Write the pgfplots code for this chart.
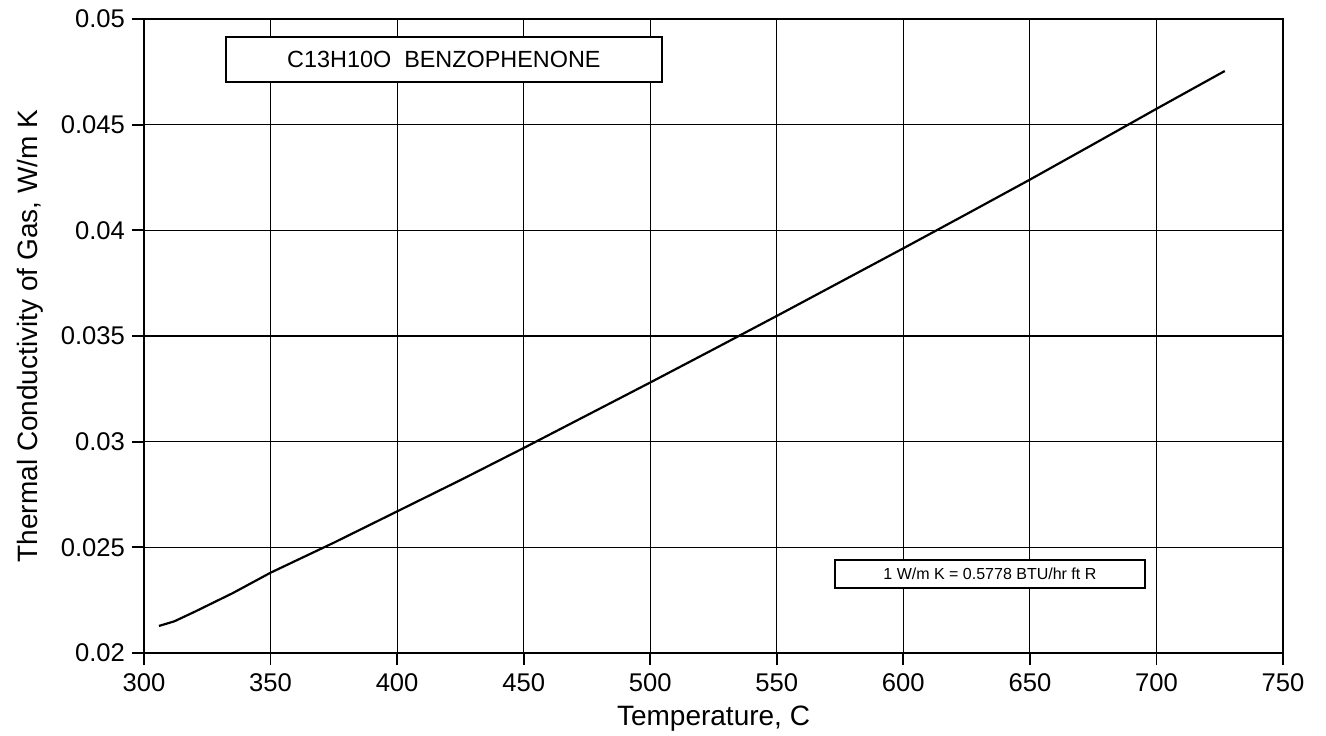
\documentclass[border=0pt]{standalone}
\usepackage{fontspec}
\setmainfont{Liberation Sans}
\usepackage{pgfplots}
\pgfplotsset{compat=1.18}

\begin{document}
\begin{tikzpicture}
\useasboundingbox (-72pt,-41pt) rectangle (591pt,326.5pt);
\begin{axis}[
    at={(0,0)}, anchor=south west,
    scale only axis,
    width=569.5pt, height=317pt,
    xmin=300, xmax=750, ymin=0.02, ymax=0.05,
    xtick={300,350,...,750},
    ytick={0.02,0.025,0.03,0.035,0.04,0.045,0.05},
    yticklabels={0.02,0.025,0.03,0.035,0.04,0.045,0.05},
    scaled y ticks=false,
    /pgf/number format/assume math mode=true,
    tick align=outside,
    major tick length=6pt,
    tick style={black, line width=0.9pt},
    xtick pos=bottom, ytick pos=left,
    grid=major,
    major grid style={black, line width=0.6pt},
    axis line style={line width=1.3pt},
    ticklabel style={font=\fontsize{12.8}{14}\selectfont},
    xticklabel style={yshift=-1pt},
    label style={font=\fontsize{14}{16}\selectfont},
    xlabel={Temperature, C},
    ylabel={Thermal Conductivity of Gas, W/m K},
    ylabel style={yshift=2pt},
    clip=false,
]
\addplot[black, line width=1.1pt] coordinates {
    (305.9,0.02128) (312,0.02150) (320,0.02195) (335,0.02283)
    (350,0.02380) (375,0.02522) (400,0.02670) (425,0.02818)
    (450,0.02970) (475,0.03125) (500,0.03280) (525,0.03437)
    (550,0.03595) (575,0.03755) (600,0.03915) (625,0.04077)
    (650,0.04240) (675,0.04407) (700,0.04575) (727,0.04754)
};
\draw[line width=1.1pt, fill=white] (axis cs:332.4,0.04702) rectangle (axis cs:504.7,0.04915);
\node[font=\fontsize{11.7}{13}\selectfont] at (axis cs:418.5,0.04808) {C13H10O\ \ BENZOPHENONE};
\draw[line width=1.1pt, fill=white] (axis cs:573.0,0.02308) rectangle (axis cs:695.5,0.0244);
\node[font=\fontsize{8}{9}\selectfont] at (axis cs:634.2,0.02374) {1 W/m K = 0.5778 BTU/hr ft R};
\end{axis}
\end{tikzpicture}
\end{document}
